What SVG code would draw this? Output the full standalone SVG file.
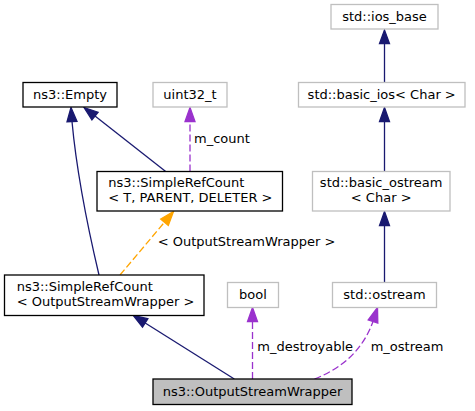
<svg xmlns="http://www.w3.org/2000/svg" width="475" height="411" viewBox="0 0 475 411">
<style>
text{font-family:"DejaVu Sans","Liberation Sans",sans-serif;font-size:13px;fill:#000}
.c{text-anchor:middle}
.nb{fill:#fff;stroke:#000;stroke-width:1.3}
.ng{fill:#fff;stroke:#bfbfbf;stroke-width:1.3}
.ns{fill:#bfbfbf;stroke:#000;stroke-width:1.3}
.inh{fill:none;stroke:#191970;stroke-width:1.3}
.inhA{fill:#191970;stroke:#191970;stroke-width:1.3}
.use{fill:none;stroke:#9a32cd;stroke-width:1.3;stroke-dasharray:7,3}
.useA{fill:#9a32cd;stroke:#9a32cd;stroke-width:1.3}
.tpl{fill:none;stroke:#ffa500;stroke-width:1.3;stroke-dasharray:7,3}
.tplA{fill:#ffa500;stroke:#ffa500;stroke-width:1.3}
</style>
<rect width="475" height="411" fill="#fff"/>
<g id="connectors">
  <line class="inh" x1="384.5" y1="82.5" x2="384.5" y2="43.5"/>
  <polygon class="inhA" points="384.5,30 379.5,43.5 389.5,43.5"/>
  <line class="inh" x1="384.5" y1="171.5" x2="384.5" y2="121.5"/>
  <polygon class="inhA" points="384.5,107.5 379.5,121.5 389.5,121.5"/>
  <line class="inh" x1="384.5" y1="282.5" x2="384.5" y2="225.5"/>
  <polygon class="inhA" points="384.5,211.5 379.5,225.5 389.5,225.5"/>
  <line class="inh" x1="165.7" y1="171.5" x2="95" y2="116.1"/>
  <polygon class="inhA" points="84,107.5 98.1,112.2 91.9,120"/>
  <path class="inh" d="M99,275 C86,220 76,165 72,121.5"/>
  <polygon class="inhA" points="71,107.5 67,121.7 77,121.3"/>
  <line class="tpl" x1="120" y1="275" x2="164.5" y2="222.2"/>
  <polygon class="tplA" points="173.5,211.5 168.3,225.4 160.7,219"/>
  <text x="157.7" y="246">&lt; OutputStreamWrapper &gt;</text>
  <line class="use" x1="190" y1="171.5" x2="190" y2="121.5"/>
  <polygon class="useA" points="190,107.5 185,121.5 195,121.5"/>
  <text x="194" y="143">m_count</text>
  <line class="inh" x1="234.3" y1="379" x2="145.2" y2="323"/>
  <polygon class="inhA" points="133.3,315.5 147.9,318.7 142.5,327.2"/>
  <line class="use" x1="252.5" y1="379" x2="252.5" y2="321.5"/>
  <polygon class="useA" points="252.5,307.5 247.5,321.5 257.5,321.5"/>
  <text x="257.3" y="351">m_destroyable</text>
  <path class="use" d="M314.5,379 C340,369 362,352 373,321.5"/>
  <polygon class="useA" points="377.5,307.5 377.8,323 368.2,320"/>
  <text x="370.7" y="351">m_ostream</text>
</g>
<g id="node_ios_base">
  <rect class="ng" x="331" y="4.5" width="107" height="24.5"/>
  <text class="c" x="384.5" y="21">std::ios_base</text>
</g>
<g id="node_basic_ios">
  <rect class="ng" x="298.5" y="82.5" width="166.5" height="24.5"/>
  <text class="c" x="381.7" y="99">std::basic_ios&lt; Char &gt;</text>
</g>
<g id="node_basic_ostream">
  <rect class="ng" x="312.5" y="171.5" width="137.5" height="39.5"/>
  <text class="c" x="381.2" y="187">std::basic_ostream</text>
  <text class="c" x="381.2" y="202">&lt; Char &gt;</text>
</g>
<g id="node_ostream">
  <rect class="ng" x="332.5" y="282.5" width="104" height="25"/>
  <text class="c" x="384.5" y="299">std::ostream</text>
</g>
<g id="node_empty">
  <rect class="nb" x="23" y="82.5" width="94" height="24.5"/>
  <text class="c" x="70" y="99">ns3::Empty</text>
</g>
<g id="node_uint32">
  <rect class="ng" x="153" y="82.5" width="74" height="24.5"/>
  <text class="c" x="190" y="99">uint32_t</text>
</g>
<g id="node_simplerefcount_t">
  <rect class="nb" x="97" y="171.5" width="185.5" height="39.5"/>
  <text x="108.3" y="187">ns3::SimpleRefCount</text>
  <text x="108.3" y="202">&lt; T, PARENT, DELETER &gt;</text>
</g>
<g id="node_simplerefcount_osw">
  <rect class="nb" x="4.5" y="275" width="199.5" height="40.5"/>
  <text x="16.7" y="290.5">ns3::SimpleRefCount</text>
  <text x="16.7" y="305.5">&lt; OutputStreamWrapper &gt;</text>
</g>
<g id="node_bool">
  <rect class="ng" x="227.5" y="282.5" width="51" height="25"/>
  <text class="c" x="253" y="299">bool</text>
</g>
<g id="node_osw">
  <rect class="ns" x="153" y="379" width="199" height="25.5"/>
  <text class="c" x="252.5" y="396">ns3::OutputStreamWrapper</text>
</g>
</svg>
